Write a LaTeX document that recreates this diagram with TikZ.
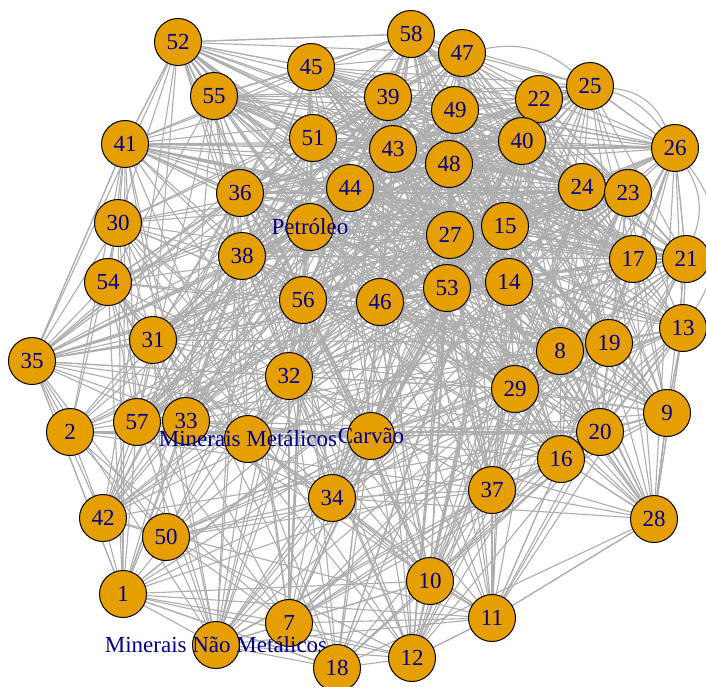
\documentclass[tikz,border=0pt]{standalone}
\usepackage{fontspec}
\setmainfont{Liberation Serif}
\pgfdeclarelayer{background}
\pgfsetlayers{background,main}
\definecolor{vfill}{HTML}{E69F00}
\definecolor{vlab}{HTML}{00008B}
\definecolor{egray}{HTML}{ADADAD}
\tikzset{
  vtx/.style={circle, draw=black, line width=0.5pt, fill=vfill, minimum size=23.5pt, inner sep=0pt},
  lbl/.style={text=vlab, font=\fontsize{11.5pt}{12pt}\selectfont, inner sep=0pt},
  edge/.style={draw=egray, line width=0.55pt},
}
\newcommand\mynodelist{52/178/42/0.85/52, 58/411/34/1.2/58, 47/462/53/1.2/47, 45/311/67/1.0/45,
55/214/96/0.95/55, 39/388/97/1.25/39, 49/455/110/1.25/49, 22/539/99/1.2/22, 25/590/86/1.0/25,
41/125/144/0.85/41, 51/313/138/1.05/51, 43/393/149/1.25/43, 48/449/164/1.25/48, 40/522/141/1.25/40,
26/675/148/1.0/26, 36/240/193/1.0/36, 44/350/188/1.2/44, 24/582/187/1.25/24, 23/628/193/1.2/23,
30/118/223/0.8/30, Pet/310/227/1.1/Petróleo, 27/450/235/1.2/27, 15/505/226/1.2/15, 38/242/256/1.0/38,
17/633/259/1.15/17, 21/686/259/1.0/21, 54/108/282/0.8/54, 56/303/300/1.0/56, 46/380/302/1.0/46,
53/447/288/1.1/53, 14/509/282/1.15/14, 31/153/340/0.85/31, 8/560/351/1.05/8, 19/609/343/1.05/19,
13/683/328/0.95/13, 35/32/361/0.75/35, 32/289/376/0.9/32, 29/515/389/1.0/29, 2/70/432/0.7/2,
57/137/422/0.85/57, 33/186/421/0.85/33, MM/248/439/0.9/Minerais Metálicos, Carv/371/436/0.9/Carvão,
9/667/413/0.85/9, 20/600/432/1.0/20, 16/561/459/1.0/16, 42/103/518/0.7/42, 34/332/498/0.85/34,
37/492/490/0.9/37, 50/166/537/0.75/50, 28/654/519/0.8/28, 1/123/594/0.75/1, 10/430/581/0.85/10,
11/492/618/0.85/11, 7/289/623/0.8/7, MNM/216/645/0.75/Minerais Não Metálicos, 18/337/668/0.8/18,
12/412/658/0.8/12}
\begin{document}
\begin{tikzpicture}[x=0.5pt, y=-0.5pt]
  \path[use as bounding box] (0,0) rectangle (706,686);
  % vertices
  \foreach \id/\px/\py/\w/\tx in \mynodelist {
    \node[vtx, label={[lbl]center:\tx}] (n\id) at (\px,\py) {};
  }
  % edges
  \begin{pgfonlayer}{background}
    \fill[white] (0,0) rectangle (706,686);
    \pgfmathsetseed{2718}
    \foreach \ida/\xa/\ya/\wa/\ta [count=\i] in \mynodelist {
      \foreach \idb/\xb/\yb/\wb/\tb [count=\j] in \mynodelist {
        \ifnum\j>\i\relax
          \pgfmathsetmacro\dd{veclen(\xa-\xb,\ya-\yb)}
          \pgfmathsetmacro\pp{1.3*\wa*\wb*exp(-\dd/380)}
          \pgfmathsetmacro\rr{rnd}
          \pgfmathtruncatemacro\ok{\rr<\pp ? 1 : 0}
          \ifnum\ok=1\relax
            \draw[edge] (n\ida) -- (n\idb);
          \fi
        \fi
      }
    }
    \foreach \a/\b in {52/58, 52/45, 52/41, 52/35, 52/30, 41/35, 35/2, 35/42, 35/1, 2/42, 42/1,
      1/18, 1/11, 1/12, 18/12, 12/11, 11/28, 28/9, 28/13, 28/26, 9/13, 13/21, 21/26, 26/25,
      58/47, 52/55, 1/MNM, MNM/7, 7/18, 11/37, 11/16, 28/16, 28/20}
      \draw[edge] (n\a) -- (n\b);
    \draw[edge] (n47) to[bend left=25] (n25);
    \draw[edge] (n25) to[bend left=30] (n26);
    \draw[edge] (n22) to[bend left=35] (n26);
    \draw[edge] (n26) to[bend left=35] (n13);
    \draw[edge] (n26) to[bend left=25] (n21);
  \end{pgfonlayer}
\end{tikzpicture}
\end{document}
